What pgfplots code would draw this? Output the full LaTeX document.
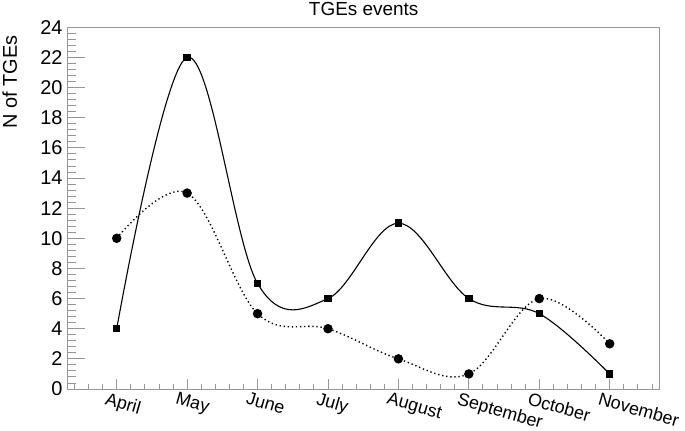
\documentclass[border=0pt]{standalone}
\usepackage{pgfplots}
\pgfplotsset{compat=1.18}
\usepackage{fontspec}
\setmainfont{Liberation Sans}
\definecolor{framegray}{RGB}{150,150,150}
\pgfplotsset{
  commonframe/.style={
    scale only axis,
    width=592bp, height=361.7bp,
    xmin=-0.696, xmax=7.71,
    ymin=0, ymax=24,
    tick style={framegray, line width=0.9bp},
    tick align=inside,
    xtick pos=bottom, ytick pos=left,
  },
}
\begin{document}
\begin{tikzpicture}
% overlay axis: only the longer y ticks
\begin{axis}[
  commonframe,
  axis line style={draw=none},
  xtick=\empty, xticklabels={},
  ytick={0,2,...,24}, yticklabels={},
  minor ytick={0,0.4,...,24},
  major tick length=17bp,
  minor tick length=8bp,
]
\end{axis}
\begin{axis}[
  commonframe,
  axis line style={framegray, line width=0.9bp},
  xtick={0,1,2,3,4,5,6,7},
  xticklabels={April,May,June,July,August,September,October,November},
  minor xtick={-0.6,-0.4,...,7.6},
  ytick={0,2,...,24},
  major tick length=10bp,
  minor tick length=5bp,
  /pgf/number format/assume math mode=true,
  xticklabel style={font=\fontsize{18}{20}\selectfont, inner sep=0pt, anchor=north west, xshift=-9bp, yshift=-2.5bp, rotate=-16},
  yticklabel style={font=\fontsize{20}{22}\selectfont, inner sep=0pt, anchor=east, xshift=-5bp},
  title={TGEs events},
  title style={font=\fontsize{19}{21}\selectfont, at={(axis description cs:0.5,1)}, anchor=base, inner sep=0pt, yshift=5.5bp},
  ylabel={N of TGEs},
  ylabel style={font=\fontsize{20}{22}\selectfont, at={(axis description cs:-0.086,0.978)}, anchor=base east, inner sep=0pt},
  clip=false,
]
\coordinate (sw) at (rel axis cs:0,0);
\coordinate (ne) at (rel axis cs:1,1);
\addplot[black, line width=1.1bp, smooth, tension=0.6, mark=square*, mark size=3.2bp, mark options={solid}]
  coordinates {(0,4) (1,22) (2,7) (3,6) (4,11) (5,6) (6,5) (7,1)};
\addplot[black, line width=1.4bp, smooth, tension=0.6, dash pattern=on 1.3bp off 2.8bp, mark=*, mark size=4bp, mark options={solid}]
  coordinates {(0,10) (1,13) (2,5) (3,4) (4,2) (5,1) (6,6) (7,3)};
\end{axis}
\pgfresetboundingbox
\path[use as bounding box] ([shift={(-67.7bp,-42bp)}]sw) rectangle ([shift={(25.3bp,27.3bp)}]ne);
\end{tikzpicture}
\end{document}
